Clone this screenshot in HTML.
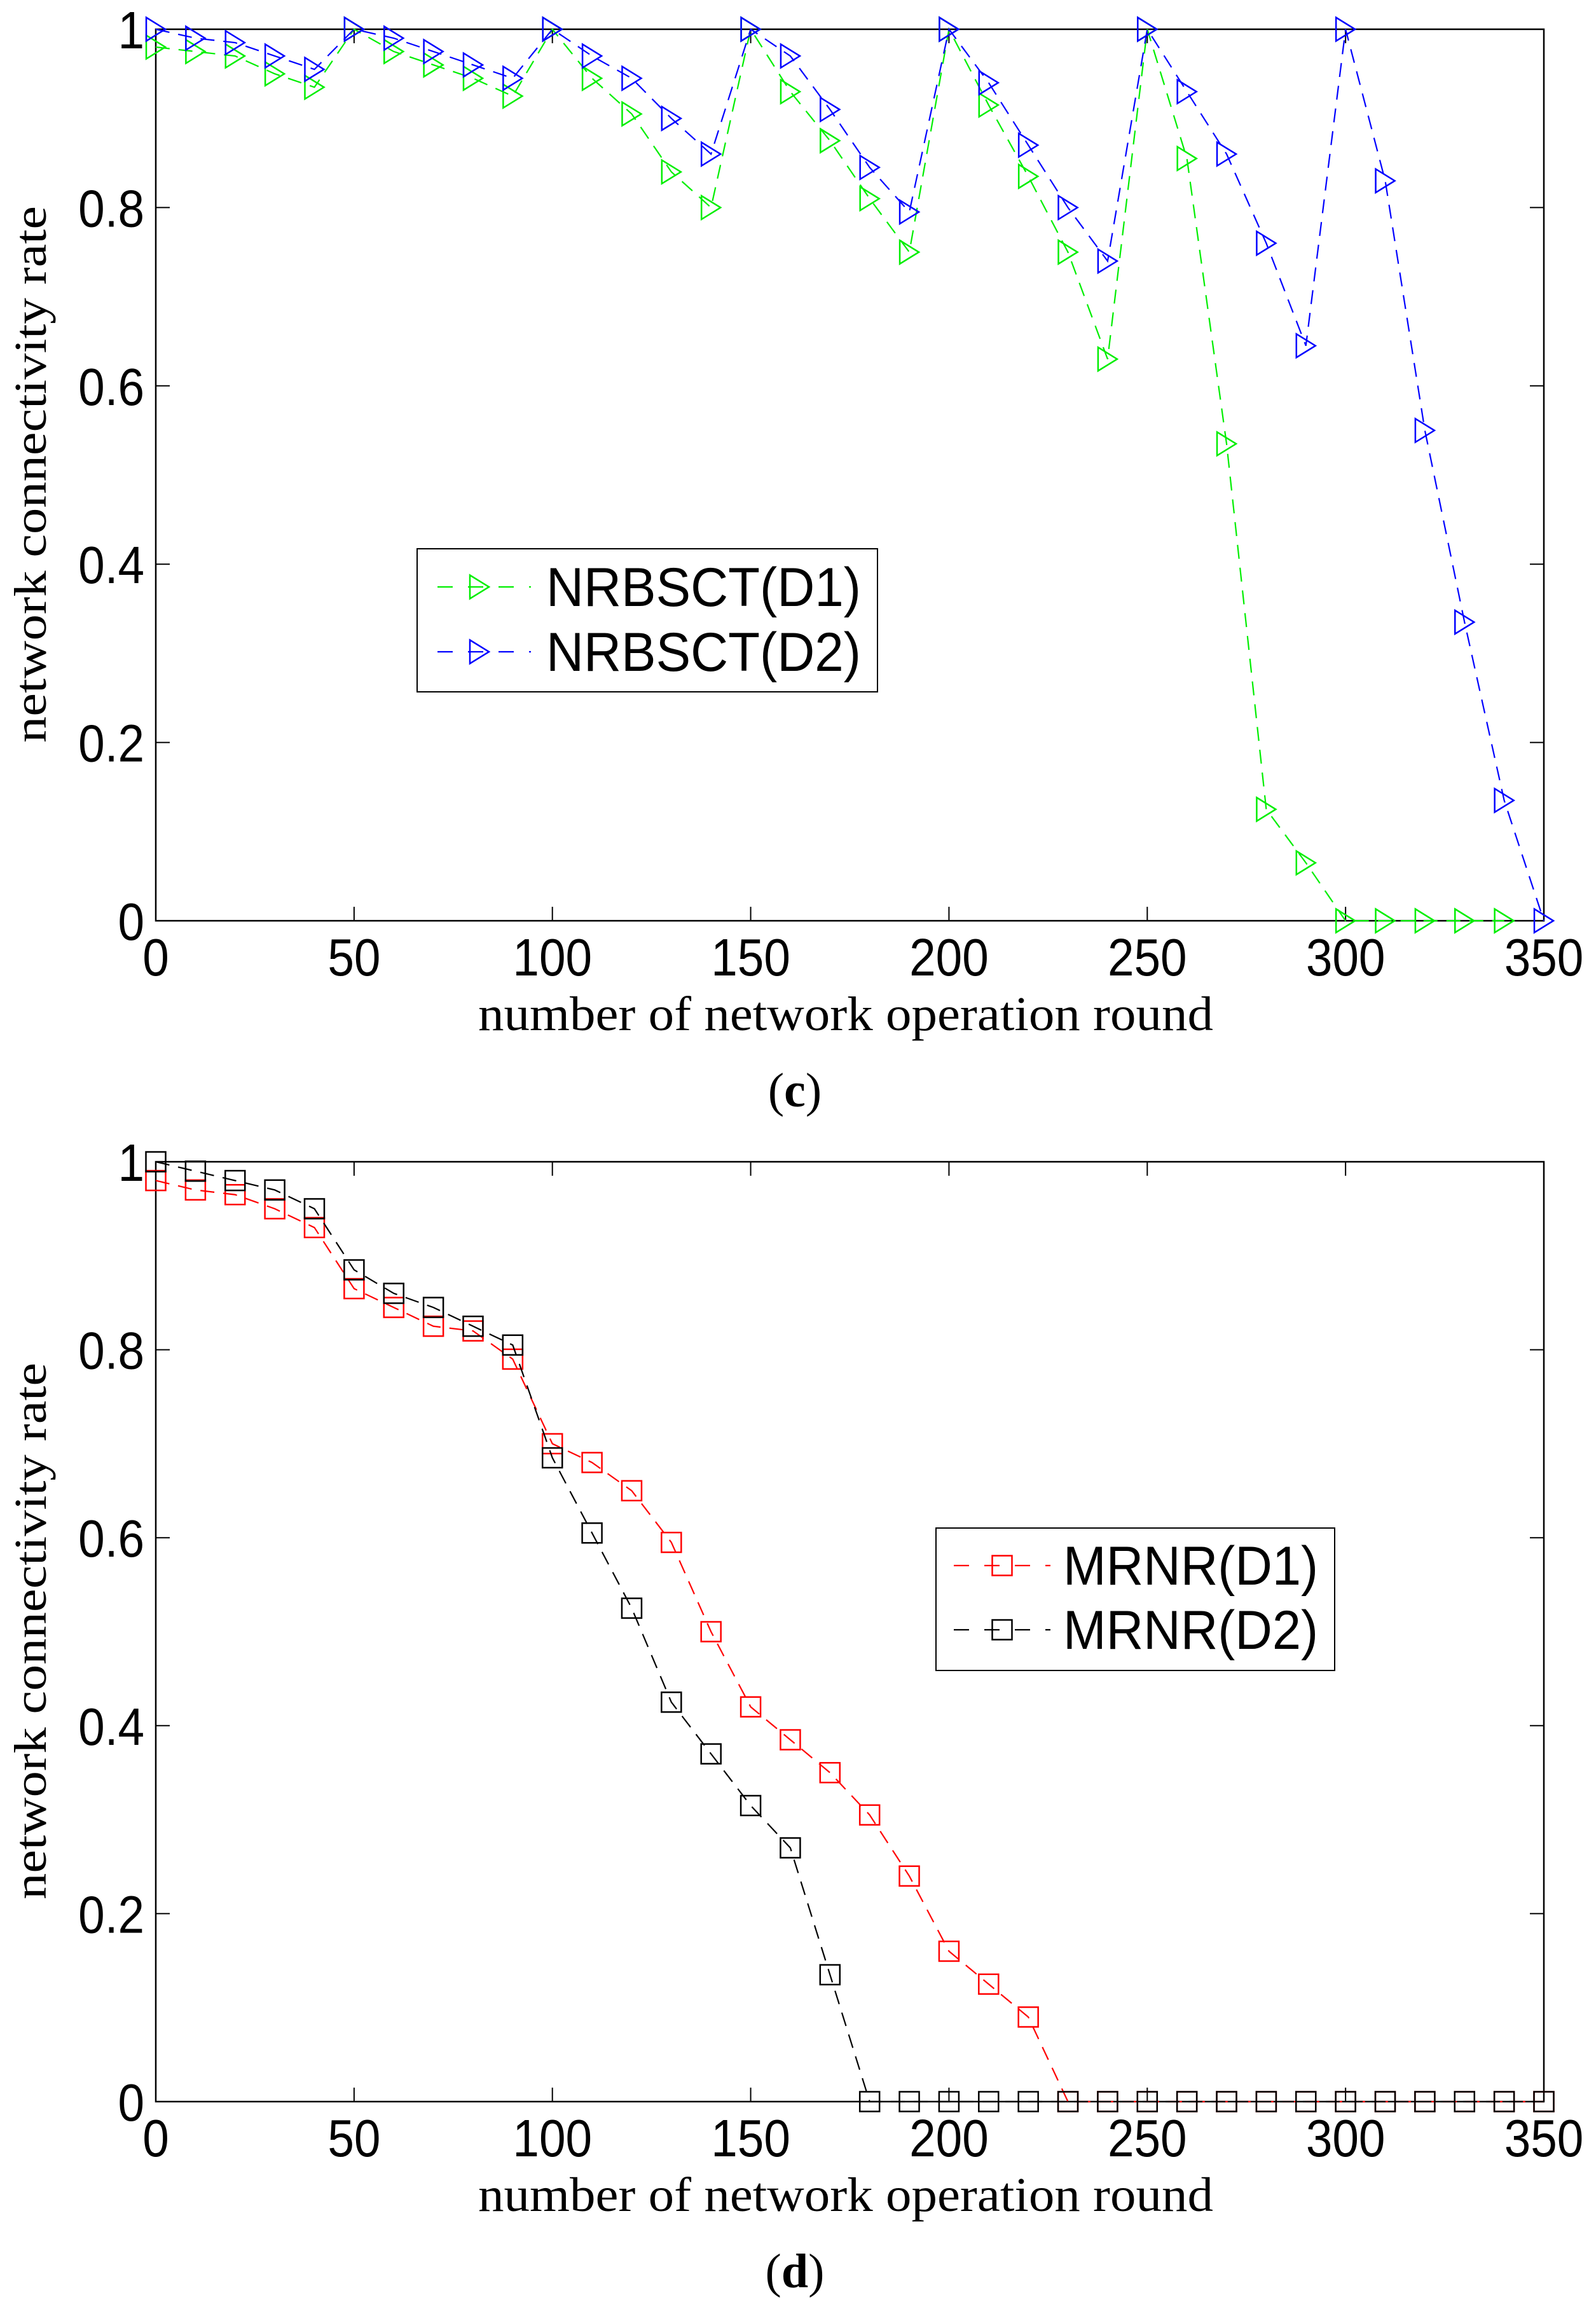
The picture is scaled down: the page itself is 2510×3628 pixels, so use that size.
<!DOCTYPE html>
<html><head><meta charset="utf-8"><style>
html,body{margin:0;padding:0;background:#fff;}
svg{display:block;}
</style></head><body>
<svg id="fig" width="2510" height="3628" viewBox="0 0 2510 3628" xmlns="http://www.w3.org/2000/svg">
<g id="plotC"></g>
<g id="plotD"></g>
</svg>
<script>
const xRounds = [0,10,20,30,40,50,60,70,80,90,100,110,120,130,140,150,160,170,180,190,200,210,220,230,240,250,260,270,280,290,300,310,320,330,340,350];
const xTicks = [0,50,100,150,200,250,300,350];
const yTicks = [0,0.2,0.4,0.6,0.8,1];
const yTickLabels = ["0","0.2","0.4","0.6","0.8","1"];
const nrbsctD1 = [0.98,0.975,0.97,0.95,0.935,1,0.975,0.96,0.945,0.925,1,0.945,0.905,0.84,0.80,1,0.93,0.875,0.81,0.75,1,0.915,0.835,0.75,0.63,1,0.855,0.535,0.125,0.065,0,0,0,0,0];
const nrbsctD2 = [1,0.99,0.985,0.97,0.955,1,0.99,0.975,0.96,0.945,1,0.97,0.945,0.90,0.86,1,0.97,0.91,0.845,0.795,1,0.94,0.87,0.80,0.74,1,0.93,0.86,0.76,0.645,1,0.83,0.55,0.335,0.135,0];
const mrnrD1 = [0.98,0.97,0.965,0.95,0.93,0.865,0.845,0.825,0.82,0.79,0.70,0.68,0.65,0.595,0.50,0.42,0.385,0.35,0.305,0.24,0.16,0.125,0.09,0,0,0,0,0,0,0,0,0,0,0,0,0];
const mrnrD2 = [1,0.99,0.98,0.97,0.95,0.885,0.86,0.845,0.825,0.805,0.685,0.605,0.525,0.425,0.37,0.315,0.27,0.135,0,0,0,0,0,0,0,0,0,0,0,0,0,0,0,0,0,0];

const NS="http://www.w3.org/2000/svg";
function mk(parent,tag,attrs,text){const e=document.createElementNS(NS,tag);for(const k in attrs)e.setAttribute(k,attrs[k]);if(text!==undefined)e.textContent=text;parent.appendChild(e);return e;}

function tri(g,cx,cy,col){
  const p=mk(g,'path',{d:`M${cx-15},${cy-18.5} L${cx+15},${cy} L${cx-15},${cy+18.5} Z`,fill:'none',stroke:col,'stroke-width':2.5});
  
  
}
function sq(g,cx,cy,col){
  const p=mk(g,'rect',{x:cx-15.5,y:cy-15.5,width:31,height:31,fill:'none',stroke:col,'stroke-width':2.5});
  
  
}

function drawChart(g,top,bottom,series,caption,legend){
  const L=245,R=2428;
  const sx=v=>L+(v/350)*(R-L);
  const sy=v=>bottom-v*(bottom-top);
  const frame=mk(g,'rect',{x:L,y:top,width:R-L,height:bottom-top,fill:'none',stroke:'#000','stroke-width':2.5});
  
  
  xTicks.forEach(t=>{
    const x=sx(t);
    mk(g,'line',{x1:x,y1:bottom,x2:x,y2:bottom-22,stroke:'#000','stroke-width':2});
    mk(g,'line',{x1:x,y1:top,x2:x,y2:top+22,stroke:'#000','stroke-width':2});
    const t2=mk(g,'text',{transform:`translate(${x},${bottom+86}) scale(0.9,1)`,'text-anchor':'middle','font-family':'Liberation Sans, sans-serif','font-size':83,fill:'#000'},String(t));
    
    
  });
  yTicks.forEach((t,i)=>{
    const y=sy(t);
    mk(g,'line',{x1:L,y1:y,x2:L+22,y2:y,stroke:'#000','stroke-width':2});
    mk(g,'line',{x1:R,y1:y,x2:R-22,y2:y,stroke:'#000','stroke-width':2});
    const t2=mk(g,'text',{transform:`translate(227,${y+30}) scale(0.9,1)`,'text-anchor':'end','font-family':'Liberation Sans, sans-serif','font-size':83,fill:'#000'},yTickLabels[i]);
    
    
  });
  const yl=mk(g,'text',{transform:`translate(72,${(top+bottom)/2-1}) rotate(-90)`,'text-anchor':'middle','font-family':'Liberation Serif, serif','font-size':72,textLength:844,lengthAdjust:'spacingAndGlyphs',fill:'#000'},'network connectivity rate');
  
  
  const xl=mk(g,'text',{x:1330,y:bottom+172,'text-anchor':'middle','font-family':'Liberation Serif, serif','font-size':76,textLength:1156,lengthAdjust:'spacingAndGlyphs',fill:'#000'},'number of network operation round');
  
  
  const cap=mk(g,'text',{x:1250,y:bottom+292,'text-anchor':'middle','font-family':'Liberation Serif, serif','font-size':76,fill:'#000'});
  
  
  mk(cap,'tspan',{},'(');mk(cap,'tspan',{'font-weight':'bold'},caption);mk(cap,'tspan',{},')');

  series.forEach(s=>{
    const pts=s.vals.map((v,i)=>[sx(xRounds[i]),sy(v)]);
    const pl=mk(g,'polyline',{points:pts.map(p=>p.join(',')).join(' '),fill:'none',stroke:s.col,'stroke-width':2.2,'stroke-dasharray':'22,14'});
    
    
    pts.forEach(p=>s.marker(g,p[0],p[1],s.col));
  });

  const lg=mk(g,'g',{});
  
  
  mk(lg,'rect',{x:legend.x,y:legend.y,width:legend.w,height:legend.h,fill:'#fff',stroke:'#000','stroke-width':2});
  series.forEach((s,i)=>{
    const cy=legend.rows[i];
    const e=mk(lg,'g',{});
    
    
    mk(e,'line',{x1:legend.lx1,y1:cy,x2:legend.lx2,y2:cy,stroke:s.col,'stroke-width':2.2,'stroke-dasharray':'24,24'});
    s.marker(e,legend.mx,cy,s.col);
    mk(e,'text',{x:legend.tx,y:cy+legend.base,'font-family':'Liberation Sans, sans-serif','font-size':86,textLength:legend.tw,lengthAdjust:'spacingAndGlyphs',fill:'#000'},s.label);
  });
}

drawChart(document.getElementById('plotC'),46,1448,[
  {vals:nrbsctD1,col:'#00ee00',marker:tri,name:'nrbsct-d1',label:'NRBSCT(D1)'},
  {vals:nrbsctD2,col:'#0000ff',marker:tri,name:'nrbsct-d2',label:'NRBSCT(D2)'}
],'c',{x:656,y:863,w:724,h:225,rows:[923,1025],lx1:688,lx2:835,mx:754,tx:859,tw:495,base:30});

drawChart(document.getElementById('plotD'),1827,3305,[
  {vals:mrnrD1,col:'#ff0000',marker:sq,name:'mrnr-d1',label:'MRNR(D1)'},
  {vals:mrnrD2,col:'#000000',marker:sq,name:'mrnr-d2',label:'MRNR(D2)'}
],'d',{x:1472,y:2403,w:627,h:224,rows:[2462,2563],lx1:1500,lx2:1652,mx:1576,tx:1672,tw:401,base:30});
</script>
</body></html>
